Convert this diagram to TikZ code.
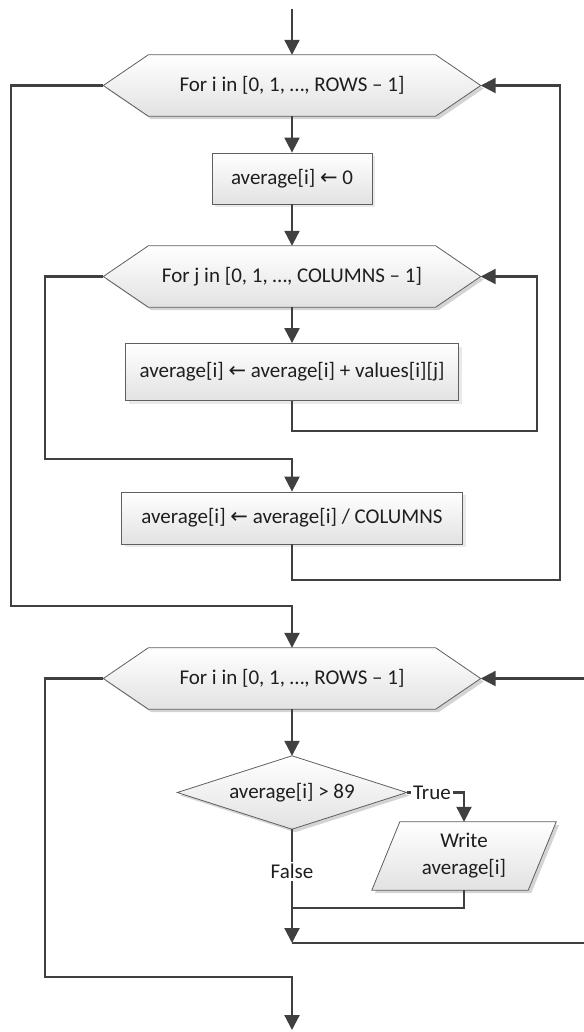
\documentclass[tikz,border=0pt]{standalone}
\usepackage{fontspec}
\setmainfont{Carlito}
\newfontfamily\symfont{DejaVu Sans}
\usetikzlibrary{arrows.meta,backgrounds,shadows}
\definecolor{linec}{HTML}{404040}
\definecolor{borderc}{HTML}{5F5F5F}
\definecolor{shadec}{HTML}{E2E2E2}
\definecolor{shadowc}{HTML}{D4D4D4}
\definecolor{textc}{HTML}{1E1E1E}
\newcommand{\myarrow}{{\symfont\char"2190}}
\newcommand{\drawhex}[2]{\path[#2] (#1.west) -- ([xshift=45pt]#1.north west) -- ([xshift=-45pt]#1.north east) -- (#1.east) -- ([xshift=-45pt]#1.south east) -- ([xshift=45pt]#1.south west) -- cycle;}
\newcommand{\drawdia}[2]{\path[#2] (#1.west) -- (#1.north) -- (#1.east) -- (#1.south) -- cycle;}
\newcommand{\drawpgram}[2]{\path[#2] (#1.south west) -- ([xshift=28pt]#1.north west) -- (#1.north east) -- ([xshift=-28pt]#1.south east) -- cycle;}
\begin{document}
\begin{tikzpicture}[x=1pt,y=-1pt,
  txt/.style={inner sep=0pt, text=textc, font=\fontsize{21}{27}\selectfont, align=center},
  shapebox/.style={txt, minimum width=#1, draw=none},
  procbox/.style={txt, draw=borderc, line width=0.8pt, top color=white, bottom color=shadec, minimum width=#1,
    drop shadow={shadow xshift=3pt, shadow yshift=-3pt, fill=shadowc}},
  conn/.style={draw=linec, line width=2.2pt, -{Triangle[length=15pt,width=15pt]}},
  plain/.style={draw=linec, line width=2.2pt},
  shapefill/.style={draw=borderc, line width=0.8pt, top color=white, bottom color=shadec},
  shapeshadow/.style={fill=shadowc, draw=none, transform canvas={xshift=3pt, yshift=-3pt}},
  lbl/.style={txt, fill=white, inner sep=2pt}]
\useasboundingbox (0,0) rectangle (583,1032);

% nodes
\node[shapebox=377pt, minimum height=61pt] (h1) at (292,85.5) {For i in [0, 1, …, ROWS – 1]};
\node[procbox=160pt, minimum height=51pt] (b1) at (292,178.5) {average[i] \myarrow{} 0};
\node[shapebox=377pt, minimum height=61pt] (h2) at (292,276.5) {For j in [0, 1, …, COLUMNS – 1]};
\node[procbox=333pt, minimum height=57pt] (b2) at (292,372) {average[i] \myarrow{} average[i] + values[i][j]};
\node[procbox=341pt, minimum height=52pt] (b3) at (292,518) {average[i] \myarrow{} average[i] / COLUMNS};
\node[shapebox=377pt, minimum height=61pt] (h3) at (292,678.5) {For i in [0, 1, …, ROWS – 1]};
\node[shapebox=229pt, minimum height=73pt] (d1) at (292,792.5) {average[i] > 89};
\node[shapebox=184pt, minimum height=68pt] (p1) at (464,856) {Write\\average[i]};

% shapes behind the texts
\begin{scope}[on background layer]
\drawhex{h1}{shapeshadow}
\drawhex{h1}{shapefill}
\drawhex{h2}{shapeshadow}
\drawhex{h2}{shapefill}
\drawhex{h3}{shapeshadow}
\drawhex{h3}{shapefill}
\drawdia{d1}{shapeshadow}
\drawdia{d1}{shapefill}
\drawpgram{p1}{shapeshadow}
\drawpgram{p1}{shapefill}
\end{scope}

% free ends and bends
\coordinate (start) at (292,9);
\coordinate (r2) at (537,431);
\coordinate (l2) at (45,459);
\coordinate (r1) at (560,580);
\coordinate (l1) at (11,606);
\coordinate (j1) at (292,908);
\coordinate (m1) at (292,943);
\coordinate (e1) at (595,943);
\coordinate (l3) at (45,977);
\coordinate (finish) at (292,1030);

% connectors
\draw[conn] (start) -- (h1.north);
\draw[conn] (h1.south) -- (b1.north);
\draw[conn] (b1.south) -- (h2.north);
\draw[conn] (h2.south) -- (b2.north);
\draw[conn] (b2.south) |- (r2) |- (h2.east);
\draw[conn] (h2.west) -| (l2) -| (b3.north);
\draw[conn] (b3.south) |- (r1) |- (h1.east);
\draw[conn] (h1.west) -| (l1) -| (h3.north);
\draw[conn] (h3.south) -- (d1.north);
\draw[conn] (d1.east) -| node[lbl, pos=0.22] {True} (p1.north);
\draw[conn] (d1.south) -- node[lbl, pos=0.37] {False} (m1);
\draw[plain] (p1.south) |- (j1);
\draw[conn] (m1) -- (e1) |- (h3.east);
\draw[conn] (h3.west) -| (l3) -| (finish);
\end{tikzpicture}
\end{document}
